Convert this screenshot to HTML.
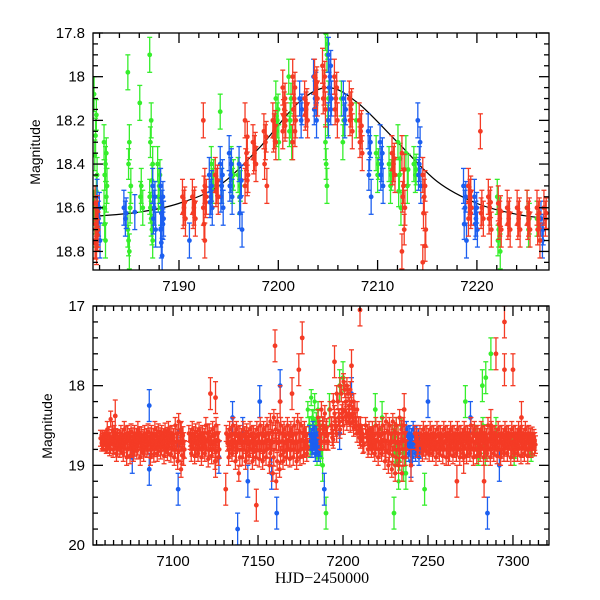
<!DOCTYPE html>
<html><head><meta charset="utf-8"><style>
html,body{margin:0;padding:0;background:#fff;width:600px;height:600px;overflow:hidden}
svg text{font-family:"Liberation Sans",sans-serif;font-size:15px;fill:#000}
</style></head><body>
<svg id="chart" width="600" height="600" xmlns="http://www.w3.org/2000/svg">
<text transform="translate(40,152) rotate(-90)" text-anchor="middle" style="font-size:14px">Magnitude</text>
<text transform="translate(52,426) rotate(-90)" text-anchor="middle" style="font-size:14px">Magnitude</text>
<text x="322" y="583" text-anchor="middle" style="font-family:'Liberation Serif',serif;font-size:16px">HJD−2450000</text>
</svg>
<script>
// ---------- Top panel data (zoom on 7181–7227) ----------
const topGreen = [
 [7181.6,[18.08,18.27,18.45,18.6,18.7]],[7182.6,[18.3,18.4,18.5,18.6,18.75]],
 [7185.0,[17.98,18.3,18.5,18.7,18.8]],[7186.2,[18.12,18.5,18.6]],
 [7187.2,[17.9,18.2,18.4,18.55,18.65,18.75]],[7188.0,[18.4,18.5,18.6]],
 [7193.4,[18.4,18.5]],[7194.3,[18.16,18.5]],[7195.4,[18.4,18.5]],[7196.1,[18.45,18.55]],
 [7199.9,[18.1,18.2,18.3]],[7201.2,[18.0,18.2,18.3]],[7204.9,[17.8,17.9,18.1,18.3,18.5]],
 [7206.5,[18.1,18.3]],[7208.0,[18.2]],[7210.0,[18.35,18.45]],[7211.3,[18.4,18.5]],
 [7212.2,[18.3,18.45,18.6]],[7213.0,[18.35,18.5]],[7213.8,[18.4,18.45]],
 [7222.2,[18.55,18.7,18.8]],[7225.2,[18.6,18.7]],[7226.2,[18.65]]
];
const topBlue = [
 [7181.9,[18.55,18.65,18.75]],[7184.6,[18.6,18.65]],[7185.7,[18.62]],
 [7187.5,[18.5,18.6,18.7]],[7188.3,[18.5,18.6,18.65,18.7,18.82]],[7191.2,[18.75]],
 [7193.2,[18.45,18.55,18.6]],[7194.3,[18.4,18.5,18.6]],[7195.2,[18.35,18.45,18.55]],
 [7196.2,[18.4,18.55,18.7]],[7202.3,[18.1,18.2]],[7203.7,[18.0,18.1,18.2]],
 [7205.2,[17.9,18.0,18.1,18.2]],[7206.7,[18.1,18.2]],[7209.2,[18.25,18.35,18.55]],
 [7210.4,[18.3,18.4,18.5]],[7214.2,[18.2,18.4,18.5]],[7218.8,[18.5,18.6,18.75]],
 [7219.9,[18.55,18.65,18.7]],[7226.6,[18.65,18.75]]
];
const topRed = [
 [7181.7,[18.58,18.65,18.7,18.75,18.78]],[7190.5,[18.55,18.6,18.65]],[7191.5,[18.55,18.6,18.65]],
 [7192.6,[18.2,18.5,18.55,18.6,18.75]],[7193.8,[18.45,18.5,18.55]],[7196.8,[18.2,18.35,18.45,18.5]],
 [7197.6,[18.3,18.35,18.4]],[7198.7,[18.25,18.3,18.5]],[7199.6,[18.2,18.25,18.3]],
 [7200.6,[18.05,18.15,18.2,18.25]],[7201.6,[18.0,18.1,18.2,18.3]],[7202.8,[18.1,18.15,18.2]],
 [7203.8,[18.0,18.05,18.1]],[7204.6,[17.95,18.05,18.15]],[7205.8,[18.0,18.1,18.2]],
 [7207.3,[18.1,18.15,18.25]],[7208.3,[18.2,18.25,18.35]],[7211.6,[18.35,18.4,18.45]],
 [7212.6,[18.35,18.5,18.6,18.8]],[7214.7,[18.45,18.55,18.7,18.85]],[7219.3,[18.5,18.55,18.6,18.65]],
 [7220.5,[18.25,18.6,18.65]],[7221.3,[18.55,18.6,18.7]],[7222.3,[18.58,18.65,18.7]],
 [7223.2,[18.6,18.65,18.7]],[7224.2,[18.6,18.65,18.7]],[7225.2,[18.6,18.65,18.7]],
 [7226.2,[18.6,18.65,18.75]],[7226.9,[18.6,18.65]]
];
const modelT = [7181.3,7186,7190,7194,7198,7202,7205,7208,7212,7216,7220,7224,7227.3];
const modelM = [18.64,18.62,18.58,18.5,18.33,18.12,18.05,18.12,18.3,18.48,18.58,18.63,18.65];
// ---------- Bottom panel data (full season) ----------
const botRed = [
 [7058,[18.66,18.72,18.7]],[7060,[18.7,18.66,18.75]],[7062,[18.55,18.7,18.78]],[7064,[18.42,18.65,18.8]],
 [7066,[18.6,18.7,18.85]],[7068,[18.65,18.72,18.8]],[7070,[18.6,18.75,18.85]],[7072,[18.55,18.7,18.9]],
 [7074,[18.6,18.68,18.88]],[7076,[18.58,18.72,18.85]],[7078,[18.6,18.7,18.82]],[7080,[18.55,18.68,18.9]],
 [7082,[18.62,18.74,18.85]],[7084,[18.6,18.7,18.8]],[7086,[18.58,18.72,18.9]],[7088,[18.6,18.7,18.86]],
 [7090,[18.55,18.7,18.85]],[7092,[18.58,18.66,18.82]],[7094,[18.6,18.72,18.88]],[7096,[18.57,18.7,18.84]],
 [7098,[18.55,18.68,18.86]],[7100,[18.6,18.72,18.9]],[7102,[18.5,18.7,18.95]],[7104,[18.45,18.72,19.05]],
 [7105.5,[18.55,18.7,18.9]],[7110,[18.6,18.7,18.85]],[7112,[18.55,18.7,18.88]],[7114,[18.58,18.72,18.85]],
 [7116,[18.56,18.7,18.9]],[7118,[18.6,18.68,18.85]],[7120,[18.5,18.7,18.92]],[7122,[18.58,18.72,18.88]],
 [7124,[18.55,18.7,18.95]],[7126,[18.5,18.68,18.9]],[7132,[18.6,18.72,18.9]],[7134,[18.55,18.7,18.85]],
 [7136,[18.5,18.72,18.95]],[7138,[18.55,18.7,19.1]],[7140,[18.6,18.72,18.9]],[7142,[18.55,18.7,18.95]],
 [7144,[18.58,18.72,18.88]],[7146,[18.55,18.7,18.95]],[7148,[18.6,18.74,18.9]],[7150,[18.55,18.7,18.92]],
 [7152,[18.5,18.72,18.95]],[7154,[18.55,18.7,18.9]],[7156,[18.5,18.68,19.0]],[7158,[18.45,18.72,19.1]],
 [7160,[18.4,18.7,19.2]],[7162,[18.45,18.72,19.05]],[7164,[18.5,18.7,18.95]],[7166,[18.55,18.72,18.9]],
 [7168,[18.5,18.68,18.92]],[7170,[18.55,18.7,18.9]],[7172,[18.5,18.72,18.95]],[7174,[18.45,18.7,18.9]],
 [7176,[18.5,18.68,18.88]],[7178,[18.55,18.7,18.85]],[7186,[18.4,18.55,18.7]],[7188,[18.3,18.5,18.7]],
 [7190,[18.35,18.55,18.7]],[7193,[18.3,18.5,18.65]],[7195,[18.2,18.35,18.5]],[7197,[18.1,18.2,18.4]],
 [7199,[18.0,18.1,18.3]],[7201,[17.95,18.05,18.2]],[7203,[18.0,18.1,18.25]],[7205,[18.05,18.2,18.35]],
 [7207,[18.2,18.3,18.5]],[7209,[18.3,18.5,18.65]],[7211,[18.5,18.6,18.75]],[7214,[18.5,18.65,18.8]],
 [7216,[18.55,18.68,18.8]],[7218,[18.55,18.7,18.85]],[7220,[18.5,18.7,18.9]],[7222,[18.55,18.7,18.85]],
 [7224,[18.5,18.68,18.95]],[7226,[18.45,18.7,19.0]],[7228,[18.5,18.72,19.05]],[7230,[18.45,18.7,19.1]],
 [7232,[18.5,18.72,19.0]],[7234,[18.4,18.7,19.1]],[7236,[18.5,18.68,18.9]],[7243,[18.6,18.7,18.8]],
 [7246,[18.6,18.72,18.85]],[7248,[18.55,18.7,18.82]],[7250,[18.6,18.72,18.85]],[7252,[18.55,18.7,18.85]],
 [7254,[18.6,18.72,18.9]],[7256,[18.55,18.7,18.85]],[7258,[18.6,18.72,18.88]],[7260,[18.55,18.7,18.9]],
 [7262,[18.6,18.68,18.85]],[7264,[18.55,18.72,18.88]],[7266,[18.6,18.7,18.85]],[7268,[18.55,18.72,18.9]],
 [7270,[18.6,18.7,18.85]],[7272,[18.55,18.68,18.88]],[7274,[18.6,18.72,18.85]],[7276,[18.5,18.7,18.9]],
 [7278,[18.55,18.72,18.88]],[7280,[18.6,18.7,18.85]],[7282,[18.55,18.68,18.9]],[7284,[18.6,18.72,18.85]],
 [7286,[18.5,18.7,18.9]],[7288,[18.55,18.68,18.85]],[7290,[18.6,18.72,18.88]],[7292,[18.55,18.7,18.9]],
 [7294,[18.6,18.72,18.85]],[7296,[18.55,18.68,18.85]],[7298,[18.6,18.7,18.9]],[7300,[18.55,18.72,18.85]],
 [7302,[18.6,18.7,18.85]],[7304,[18.55,18.68,18.88]],[7306,[18.6,18.7,18.85]],[7308,[18.55,18.72,18.88]],
 [7310,[18.6,18.7,18.8]],[7312,[18.62,18.7,18.78]]
];
const botRedOut = [[7066,18.38],[7122,18.1],[7125,18.15],[7125,18.95],[7131,19.3],[7149,19.5],[7160,17.5],[7163,18.2],
 [7170,18.1],[7174,17.8],[7176,17.4],[7195,17.7],[7205,17.75],[7210,17.05],[7236,18.3],[7240,19.0],[7262,18.8],
 [7267,19.2],[7271,18.9],[7290,17.6],[7295,17.8],[7295,17.2],[7300,17.8],[7305,18.4],[7287,18.5],[7283,19.2]];
const botBlue = [[7181,[18.6,18.7,18.8]],[7183,[18.55,18.7,18.85]],[7185,[18.6,18.72,18.85]],
 [7238,[18.55,18.7,18.85]],[7240,[18.6,18.72,18.9]],[7242,[18.55,18.7,18.85]],[7244,[18.6,18.75,18.9]]];
const botBlueOut = [[7086,18.25],[7086,19.05],[7076,18.9],[7103,18.75],[7103,19.3],[7127,18.9],[7135,18.4],[7138,19.8],
 [7141,18.6],[7144,19.2],[7151,18.2],[7158,19.1],[7161,19.6],[7163,18.0],[7189,19.3],[7275,18.4],[7285,19.6],
 [7292,19.0],[7250,18.2],[7240,18.95],[7205,18.1],[7198,18.6]];
const botGreen = [[7180,[18.3,18.5,18.8]],[7182,[18.15,18.4,18.7]],[7184,[18.2,18.5,18.9]],[7186,[18.3,18.6,18.9]],
 [7230,[18.6,18.8,19.0]],[7232,[18.5,18.9,19.2]],[7235,[18.5,18.8,19.1]],[7279,[18.6,18.8,18.9]],
 [7283,[18.5,18.75,18.9]],[7300,[18.7,18.8,18.9]],[7310,[18.7,18.8,18.85]]];
const botGreenOut = [[7188,19.0],[7190,19.6],[7192,18.3],[7200,17.9],[7198,18.0],[7219,18.3],[7223,18.4],[7230,19.6],
 [7237,19.1],[7248,19.3],[7282,18.0],[7284,17.9],[7287,17.6],[7272,18.2],[7290,18.6]];
const topXTicks = [7190,7200,7210,7220];
const topYTicks = [17.8,18,18.2,18.4,18.6,18.8];
const botXTicks = [7100,7150,7200,7250,7300];
const botYTicks = [17,18,19,20];

const NS="http://www.w3.org/2000/svg";
const svg=document.getElementById('chart');
function mk(tag,attrs,parent){const e=document.createElementNS(NS,tag);for(const k in attrs)e.setAttribute(k,attrs[k]);(parent||svg).appendChild(e);return e;}
const COL={red:'#f43b25',green:'#36ee2c',blue:'#1c5ff0'};

function panel(name,box,xd,yd,xMinor,yMinor,xTicks,yTicks,yFmt){
  const sx=v=>box.x+(v-xd[0])/(xd[1]-xd[0])*box.w;
  const sy=v=>box.y+(v-yd[0])/(yd[1]-yd[0])*box.h;
  const g=mk('g',{});
  
  
  const cid=name+'-clip';
  const cp=mk('clipPath',{id:cid},g);mk('rect',{x:box.x,y:box.y,width:box.w,height:box.h},cp);
  const plot=mk('g',{'clip-path':'url(#'+cid+')'},g);
  
  
  return {sx,sy,g,plot,finish(){
    const ax=mk('g',{stroke:'#000','stroke-width':1.3,fill:'none'},g);
    
    
    mk('rect',{x:box.x,y:box.y,width:box.w,height:box.h},ax);
    const x0=Math.ceil(xd[0]/xMinor)*xMinor;
    for(let v=x0;v<=xd[1]+1e-9;v+=xMinor){
      const maj=xTicks.some(t=>Math.abs(t-v)<1e-6);const L=maj?10:5;const X=sx(v);
      mk('line',{x1:X,x2:X,y1:box.y+box.h,y2:box.y+box.h-L},ax);mk('line',{x1:X,x2:X,y1:box.y,y2:box.y+L},ax);
    }
    const y0=Math.ceil(yd[0]/yMinor-1e-6)*yMinor;
    for(let v=y0;v<=yd[1]+1e-9;v+=yMinor){
      const maj=yTicks.some(t=>Math.abs(t-v)<1e-6);const L=maj?10:5;const Y=sy(v);
      mk('line',{x1:box.x,x2:box.x+L,y1:Y,y2:Y},ax);mk('line',{x1:box.x+box.w,x2:box.x+box.w-L,y1:Y,y2:Y},ax);
    }
    xTicks.forEach(t=>{const e=mk('text',{x:sx(t),y:box.y+box.h+21,'text-anchor':'middle'},g);e.textContent=t;
      
      });
    yTicks.forEach(t=>{const e=mk('text',{x:box.x-8,y:sy(t)+5,'text-anchor':'end'},g);e.textContent=yFmt(t);
      
      });
  }};
}
function pt(P,t,m,err,color,r,series){
  const X=P.sx(t),Y=P.sy(m),Y1=P.sy(m-err),Y2=P.sy(m+err);
  const g=mk('g',{stroke:color,fill:color,'stroke-width':1.3},P.plot);
  
  
  mk('line',{x1:X,x2:X,y1:Y1,y2:Y2},g);
  mk('line',{x1:X-2.5,x2:X+2.5,y1:Y1,y2:Y1},g);
  mk('line',{x1:X-2.5,x2:X+2.5,y1:Y2,y2:Y2},g);
  mk('circle',{cx:X,cy:Y,r:r,stroke:'none'},g);
}
// Top panel
const T=panel('top',{x:93,y:33,w:456,h:237},[7181.34,7227.26],[17.8,18.885],2,0.05,topXTicks,topYTicks,v=>v===18?'18':v.toFixed(1));
{
  let d='';
  for(let i=0;i<modelT.length-1;i++){
    const p0=modelT[Math.max(i-1,0)],p1=modelT[i],p2=modelT[i+1],p3=modelT[Math.min(i+2,modelT.length-1)];
    const q0=modelM[Math.max(i-1,0)],q1=modelM[i],q2=modelM[i+1],q3=modelM[Math.min(i+2,modelM.length-1)];
    if(i===0)d+='M'+T.sx(p1)+','+T.sy(q1);
    const c1x=p1+(p2-p0)/6,c1y=q1+(q2-q0)/6,c2x=p2-(p3-p1)/6,c2y=q2-(q3-q1)/6;
    d+=' C'+T.sx(c1x)+','+T.sy(c1y)+' '+T.sx(c2x)+','+T.sy(c2y)+' '+T.sx(p2)+','+T.sy(q2);
  }
  const l=mk('path',{d:d,stroke:'#000','stroke-width':1.2,fill:'none'},T.plot);
  
  
}
[[topGreen,COL.green,'green'],[topBlue,COL.blue,'blue'],[topRed,COL.red,'red']].forEach(([arr,c,n])=>{
  arr.forEach(([t,ms])=>{
    const s=ms.slice().sort((a,b)=>a-b);
    s.forEach((m,j)=>{
      pt(T,t-0.15+(j%3)*0.15,m,0.08,c,2.4,'top-'+n);
      if(j<s.length-1 && s[j+1]-m<0.2){
        pt(T,t+0.08-(j%2)*0.16,(m+s[j+1])/2,0.07,c,2.4,'top-'+n);
      }
    });
  });
});
T.finish();
// Bottom panel
const B=panel('bottom',{x:93,y:306,w:456,h:239},[7052.9,7321.2],[17,20],5,0.2,botXTicks,botYTicks,v=>String(v));
[[botGreen,botGreenOut,COL.green,'green'],[botBlue,botBlueOut,COL.blue,'blue'],[botRed,botRedOut,COL.red,'red']].forEach(([arr,out,c,n])=>{
  arr.forEach(([t,ms])=>ms.forEach((m,j)=>{
    pt(B,t-0.7+j*0.7,m,0.1,c,2.2,'bottom-'+n);
    pt(B,t+0.35+j*0.45,(m+18.7)/2,0.11,c,2.2,'bottom-'+n);
  }));
  out.forEach(([t,m])=>pt(B,t,m,0.2,c,2.4,'bottom-'+n+'-outlier'));
});
B.finish();
</script>
</body></html>
